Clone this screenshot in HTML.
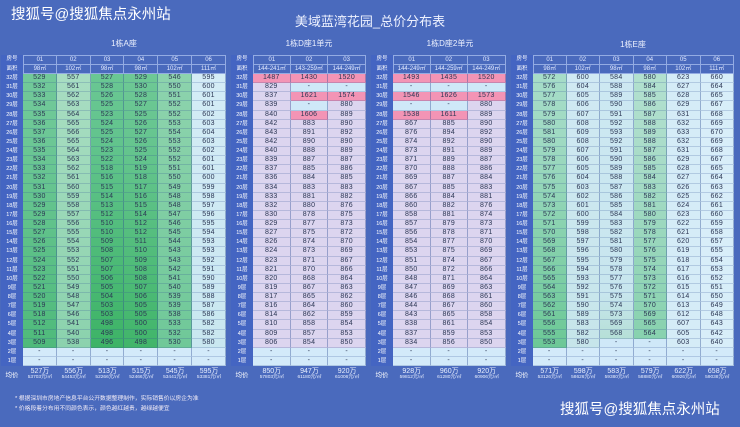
<!DOCTYPE html>
<html><head><meta charset="utf-8">
<style>
*{margin:0;padding:0;box-sizing:border-box}
html,body{width:740px;height:427px;overflow:hidden}
body{background:#4a6abd;font-family:"Liberation Sans","Noto Sans CJK SC",sans-serif;position:relative}
.wm{position:absolute;color:#fff;font-size:14.5px;line-height:16px;white-space:nowrap}
.ti{position:absolute;color:#eef2ff;text-align:center;white-space:nowrap}
.t{position:absolute;top:55px;display:grid;grid-template-rows:9.5px 9.5px repeat(32,9.125px) 20px;z-index:0}
.t i{font-style:normal;text-align:center;white-space:nowrap;overflow:hidden;display:block}
.l{color:#fff;font-size:5.5px;line-height:9px;background:#4465c2}
.h{color:#e4ebff;font-size:6px;line-height:8.5px;border-right:1px solid #93abe3;border-bottom:1px solid #93abe3}
.ht{border-top:1px solid #93abe3}
.hl{border-left:1px solid #93abe3}
.c{color:#2b3654;font-size:7px;letter-spacing:.3px;line-height:8.3px;border-right:1px solid rgba(50,80,150,.4);border-bottom:1px solid rgba(50,80,150,.22)}
.p{background:#f394b5}
.b{background:#cfe8f8}
.a{color:#eaf0ff;padding-top:2px}
.a b{display:block;font-weight:normal;font-size:7px;line-height:7px}
.a u{display:block;text-decoration:none;font-size:4.8px;line-height:6px}
.al{color:#fff;font-size:6.5px;line-height:20px}
.s{position:absolute;z-index:-1}
.fn{position:absolute;left:15px;color:#f2ecf6;font-size:5.8px;line-height:7px;white-space:nowrap}
</style></head><body>
<div class="wm" style="left:11px;top:7px">搜狐号@搜狐焦点永州站</div>
<div class="ti" style="left:0;top:14px;width:740px;font-size:13px;line-height:16px">美域蓝湾花园_总价分布表</div>
<div class="ti" style="left:74px;top:39px;width:100px;font-size:8px;line-height:10px">1栋A座</div>
<div class="ti" style="left:259px;top:39px;width:100px;font-size:8px;line-height:10px">1栋D座1单元</div>
<div class="ti" style="left:400px;top:39px;width:100px;font-size:8px;line-height:10px">1栋D座2单元</div>
<div class="ti" style="left:583px;top:40px;width:100px;font-size:8px;line-height:10px">1栋E座</div>

<!-- Table 1 -->
<div class="t" style="left:1px;grid-template-columns:22px repeat(6,33.83px)">
<div class="s" style="left:22px;top:19px;width:33.83px;height:273.75px;background:linear-gradient(#72c99a,#6cc795 25%,#4fba7b)"></div>
<div class="s" style="left:55.83px;top:19px;width:33.83px;height:273.75px;background:linear-gradient(#a8ddc2,#a2dbbd 25%,#8bd2ad)"></div>
<div class="s" style="left:89.66px;top:19px;width:33.83px;height:273.75px;background:linear-gradient(#6ac793,#62c48d 25%,#3db366)"></div>
<div class="s" style="left:123.49px;top:19px;width:33.83px;height:273.75px;background:linear-gradient(#6ec895,#66c58f 25%,#41b56a)"></div>
<div class="s" style="left:157.32px;top:19px;width:33.83px;height:273.75px;background:linear-gradient(#8cd3ad,#88d1a9 25%,#6fc898)"></div>
<div class="s" style="left:191.15px;top:19px;width:33.83px;height:273.75px;background:linear-gradient(#d4ecf6,#c9e7f0)"></div>
<div class="s" style="left:22px;top:292.75px;width:203px;height:18.25px;background:#d3eafa"></div>
<i class="l">房号</i><i class="h ht hl">01</i><i class="h ht">02</i><i class="h ht">03</i><i class="h ht">04</i><i class="h ht">05</i><i class="h ht">06</i>
<i class="l">面积</i><i class="h hl">98㎡</i><i class="h">102㎡</i><i class="h">98㎡</i><i class="h">98㎡</i><i class="h">102㎡</i><i class="h">111㎡</i>
<i class="l">32层</i><i class="c">529</i><i class="c">557</i><i class="c">527</i><i class="c">529</i><i class="c">546</i><i class="c">595</i>
<i class="l">31层</i><i class="c">532</i><i class="c">561</i><i class="c">528</i><i class="c">530</i><i class="c">550</i><i class="c">600</i>
<i class="l">30层</i><i class="c">533</i><i class="c">562</i><i class="c">526</i><i class="c">528</i><i class="c">551</i><i class="c">601</i>
<i class="l">29层</i><i class="c">534</i><i class="c">563</i><i class="c">525</i><i class="c">527</i><i class="c">552</i><i class="c">601</i>
<i class="l">28层</i><i class="c">535</i><i class="c">564</i><i class="c">523</i><i class="c">525</i><i class="c">552</i><i class="c">602</i>
<i class="l">27层</i><i class="c">536</i><i class="c">565</i><i class="c">524</i><i class="c">526</i><i class="c">553</i><i class="c">603</i>
<i class="l">26层</i><i class="c">537</i><i class="c">566</i><i class="c">525</i><i class="c">527</i><i class="c">554</i><i class="c">604</i>
<i class="l">25层</i><i class="c">536</i><i class="c">565</i><i class="c">524</i><i class="c">526</i><i class="c">553</i><i class="c">603</i>
<i class="l">24层</i><i class="c">535</i><i class="c">564</i><i class="c">523</i><i class="c">525</i><i class="c">552</i><i class="c">602</i>
<i class="l">23层</i><i class="c">534</i><i class="c">563</i><i class="c">522</i><i class="c">524</i><i class="c">552</i><i class="c">601</i>
<i class="l">22层</i><i class="c">533</i><i class="c">562</i><i class="c">518</i><i class="c">519</i><i class="c">551</i><i class="c">601</i>
<i class="l">21层</i><i class="c">532</i><i class="c">561</i><i class="c">516</i><i class="c">518</i><i class="c">550</i><i class="c">600</i>
<i class="l">20层</i><i class="c">531</i><i class="c">560</i><i class="c">515</i><i class="c">517</i><i class="c">549</i><i class="c">599</i>
<i class="l">19层</i><i class="c">530</i><i class="c">559</i><i class="c">514</i><i class="c">516</i><i class="c">548</i><i class="c">598</i>
<i class="l">18层</i><i class="c">529</i><i class="c">558</i><i class="c">513</i><i class="c">515</i><i class="c">548</i><i class="c">597</i>
<i class="l">17层</i><i class="c">529</i><i class="c">557</i><i class="c">512</i><i class="c">514</i><i class="c">547</i><i class="c">596</i>
<i class="l">16层</i><i class="c">528</i><i class="c">556</i><i class="c">510</i><i class="c">512</i><i class="c">546</i><i class="c">595</i>
<i class="l">15层</i><i class="c">527</i><i class="c">555</i><i class="c">510</i><i class="c">512</i><i class="c">545</i><i class="c">594</i>
<i class="l">14层</i><i class="c">526</i><i class="c">554</i><i class="c">509</i><i class="c">511</i><i class="c">544</i><i class="c">593</i>
<i class="l">13层</i><i class="c">525</i><i class="c">553</i><i class="c">508</i><i class="c">510</i><i class="c">543</i><i class="c">593</i>
<i class="l">12层</i><i class="c">524</i><i class="c">552</i><i class="c">507</i><i class="c">509</i><i class="c">543</i><i class="c">592</i>
<i class="l">11层</i><i class="c">523</i><i class="c">551</i><i class="c">507</i><i class="c">508</i><i class="c">542</i><i class="c">591</i>
<i class="l">10层</i><i class="c">522</i><i class="c">550</i><i class="c">506</i><i class="c">508</i><i class="c">541</i><i class="c">590</i>
<i class="l">9层</i><i class="c">521</i><i class="c">549</i><i class="c">505</i><i class="c">507</i><i class="c">540</i><i class="c">589</i>
<i class="l">8层</i><i class="c">520</i><i class="c">548</i><i class="c">504</i><i class="c">506</i><i class="c">539</i><i class="c">588</i>
<i class="l">7层</i><i class="c">519</i><i class="c">547</i><i class="c">503</i><i class="c">505</i><i class="c">539</i><i class="c">587</i>
<i class="l">6层</i><i class="c">518</i><i class="c">546</i><i class="c">503</i><i class="c">505</i><i class="c">538</i><i class="c">586</i>
<i class="l">5层</i><i class="c">512</i><i class="c">541</i><i class="c">498</i><i class="c">500</i><i class="c">533</i><i class="c">582</i>
<i class="l">4层</i><i class="c">511</i><i class="c">540</i><i class="c">498</i><i class="c">500</i><i class="c">532</i><i class="c">582</i>
<i class="l">3层</i><i class="c">509</i><i class="c">538</i><i class="c">496</i><i class="c">498</i><i class="c">530</i><i class="c">580</i>
<i class="l">2层</i><i class="c">-</i><i class="c">-</i><i class="c">-</i><i class="c">-</i><i class="c">-</i><i class="c">-</i>
<i class="l">1层</i><i class="c">-</i><i class="c">-</i><i class="c">-</i><i class="c">-</i><i class="c">-</i><i class="c">-</i>
<i class="al">均价</i><i class="a"><b>527万</b><u>53703元/㎡</u></i><i class="a"><b>556万</b><u>54453元/㎡</u></i><i class="a"><b>513万</b><u>52266元/㎡</u></i><i class="a"><b>515万</b><u>52466元/㎡</u></i><i class="a"><b>545万</b><u>53441元/㎡</u></i><i class="a"><b>595万</b><u>53381元/㎡</u></i>
</div>

<!-- Table 2 -->
<div class="t" style="left:231px;grid-template-columns:22px repeat(3,37.67px)">
<div class="s" style="left:22px;top:19px;width:113px;height:273.75px;background:#dcd5ef"></div>
<div class="s" style="left:22px;top:292.75px;width:113px;height:18.25px;background:#d3eafa"></div>
<i class="l">房号</i><i class="h ht hl">01</i><i class="h ht">02</i><i class="h ht">03</i>
<i class="l">面积</i><i class="h hl">144-241㎡</i><i class="h">143-259㎡</i><i class="h">144-249㎡</i>
<i class="l">32层</i><i class="c p">1487</i><i class="c p">1430</i><i class="c p">1520</i>
<i class="l">31层</i><i class="c">829</i><i class="c b">-</i><i class="c b">-</i>
<i class="l">30层</i><i class="c">837</i><i class="c p">1621</i><i class="c p">1574</i>
<i class="l">29层</i><i class="c">839</i><i class="c b">-</i><i class="c">880</i>
<i class="l">28层</i><i class="c">840</i><i class="c p">1606</i><i class="c">889</i>
<i class="l">27层</i><i class="c">842</i><i class="c">883</i><i class="c">890</i>
<i class="l">26层</i><i class="c">843</i><i class="c">891</i><i class="c">892</i>
<i class="l">25层</i><i class="c">842</i><i class="c">890</i><i class="c">890</i>
<i class="l">24层</i><i class="c">840</i><i class="c">888</i><i class="c">889</i>
<i class="l">23层</i><i class="c">839</i><i class="c">887</i><i class="c">887</i>
<i class="l">22层</i><i class="c">837</i><i class="c">885</i><i class="c">886</i>
<i class="l">21层</i><i class="c">836</i><i class="c">884</i><i class="c">885</i>
<i class="l">20层</i><i class="c">834</i><i class="c">883</i><i class="c">883</i>
<i class="l">19层</i><i class="c">833</i><i class="c">881</i><i class="c">882</i>
<i class="l">18层</i><i class="c">832</i><i class="c">880</i><i class="c">876</i>
<i class="l">17层</i><i class="c">830</i><i class="c">878</i><i class="c">875</i>
<i class="l">16层</i><i class="c">829</i><i class="c">877</i><i class="c">873</i>
<i class="l">15层</i><i class="c">827</i><i class="c">875</i><i class="c">872</i>
<i class="l">14层</i><i class="c">826</i><i class="c">874</i><i class="c">870</i>
<i class="l">13层</i><i class="c">824</i><i class="c">873</i><i class="c">869</i>
<i class="l">12层</i><i class="c">823</i><i class="c">871</i><i class="c">867</i>
<i class="l">11层</i><i class="c">821</i><i class="c">870</i><i class="c">866</i>
<i class="l">10层</i><i class="c">820</i><i class="c">868</i><i class="c">864</i>
<i class="l">9层</i><i class="c">819</i><i class="c">867</i><i class="c">863</i>
<i class="l">8层</i><i class="c">817</i><i class="c">865</i><i class="c">862</i>
<i class="l">7层</i><i class="c">816</i><i class="c">864</i><i class="c">860</i>
<i class="l">6层</i><i class="c">814</i><i class="c">862</i><i class="c">859</i>
<i class="l">5层</i><i class="c">810</i><i class="c">858</i><i class="c">854</i>
<i class="l">4层</i><i class="c">809</i><i class="c">857</i><i class="c">853</i>
<i class="l">3层</i><i class="c">806</i><i class="c">854</i><i class="c">850</i>
<i class="l">2层</i><i class="c">-</i><i class="c">-</i><i class="c">-</i>
<i class="l">1层</i><i class="c">-</i><i class="c">-</i><i class="c">-</i>
<i class="al">均价</i><i class="a"><b>850万</b><u>57803元/㎡</u></i><i class="a"><b>947万</b><u>61180元/㎡</u></i><i class="a"><b>920万</b><u>61006元/㎡</u></i>
</div>

<!-- Table 3 -->
<div class="t" style="left:371px;grid-template-columns:22px repeat(3,37.5px)">
<div class="s" style="left:22px;top:19px;width:112.5px;height:273.75px;background:#dcd5ef"></div>
<div class="s" style="left:22px;top:292.75px;width:112.5px;height:18.25px;background:#d3eafa"></div>
<i class="l">房号</i><i class="h ht hl">01</i><i class="h ht">02</i><i class="h ht">03</i>
<i class="l">面积</i><i class="h hl">144-249㎡</i><i class="h">144-259㎡</i><i class="h">144-249㎡</i>
<i class="l">32层</i><i class="c p">1493</i><i class="c p">1435</i><i class="c p">1520</i>
<i class="l">31层</i><i class="c b">-</i><i class="c b">-</i><i class="c b">-</i>
<i class="l">30层</i><i class="c p">1546</i><i class="c p">1626</i><i class="c p">1573</i>
<i class="l">29层</i><i class="c b">-</i><i class="c b">-</i><i class="c">880</i>
<i class="l">28层</i><i class="c p">1538</i><i class="c p">1611</i><i class="c">889</i>
<i class="l">27层</i><i class="c">867</i><i class="c">885</i><i class="c">890</i>
<i class="l">26层</i><i class="c">876</i><i class="c">894</i><i class="c">892</i>
<i class="l">25层</i><i class="c">874</i><i class="c">892</i><i class="c">890</i>
<i class="l">24层</i><i class="c">873</i><i class="c">891</i><i class="c">889</i>
<i class="l">23层</i><i class="c">871</i><i class="c">889</i><i class="c">887</i>
<i class="l">22层</i><i class="c">870</i><i class="c">888</i><i class="c">886</i>
<i class="l">21层</i><i class="c">869</i><i class="c">887</i><i class="c">884</i>
<i class="l">20层</i><i class="c">867</i><i class="c">885</i><i class="c">883</i>
<i class="l">19层</i><i class="c">866</i><i class="c">884</i><i class="c">881</i>
<i class="l">18层</i><i class="c">860</i><i class="c">882</i><i class="c">876</i>
<i class="l">17层</i><i class="c">858</i><i class="c">881</i><i class="c">874</i>
<i class="l">16层</i><i class="c">857</i><i class="c">879</i><i class="c">873</i>
<i class="l">15层</i><i class="c">856</i><i class="c">878</i><i class="c">871</i>
<i class="l">14层</i><i class="c">854</i><i class="c">877</i><i class="c">870</i>
<i class="l">13层</i><i class="c">853</i><i class="c">875</i><i class="c">869</i>
<i class="l">12层</i><i class="c">851</i><i class="c">874</i><i class="c">867</i>
<i class="l">11层</i><i class="c">850</i><i class="c">872</i><i class="c">866</i>
<i class="l">10层</i><i class="c">848</i><i class="c">871</i><i class="c">864</i>
<i class="l">9层</i><i class="c">847</i><i class="c">869</i><i class="c">863</i>
<i class="l">8层</i><i class="c">846</i><i class="c">868</i><i class="c">861</i>
<i class="l">7层</i><i class="c">844</i><i class="c">867</i><i class="c">860</i>
<i class="l">6层</i><i class="c">843</i><i class="c">865</i><i class="c">858</i>
<i class="l">5层</i><i class="c">838</i><i class="c">861</i><i class="c">854</i>
<i class="l">4层</i><i class="c">837</i><i class="c">859</i><i class="c">853</i>
<i class="l">3层</i><i class="c">834</i><i class="c">856</i><i class="c">850</i>
<i class="l">2层</i><i class="c">-</i><i class="c">-</i><i class="c">-</i>
<i class="l">1层</i><i class="c">-</i><i class="c">-</i><i class="c">-</i>
<i class="al">均价</i><i class="a"><b>928万</b><u>59812元/㎡</u></i><i class="a"><b>960万</b><u>61280元/㎡</u></i><i class="a"><b>920万</b><u>60906元/㎡</u></i>
</div>

<!-- Table 4 -->
<div class="t" style="left:511px;grid-template-columns:22px repeat(6,33.5px)">
<div class="s" style="left:22px;top:19px;width:33.5px;height:273.75px;background:linear-gradient(#a6dcc8,#9fdac2 25%,#6cc896)"></div>
<div class="s" style="left:55.5px;top:19px;width:33.5px;height:273.75px;background:linear-gradient(#d0e9f3,#c6e5ea)"></div>
<div class="s" style="left:89px;top:19px;width:33.5px;height:273.75px;background:linear-gradient(#cde8f2,#c8e6ee 80%,#b2ded2)"></div>
<div class="s" style="left:122.5px;top:19px;width:33.5px;height:273.75px;background:linear-gradient(#b2e0cf,#abddca 25%,#86d1ad)"></div>
<div class="s" style="left:156px;top:19px;width:33.5px;height:273.75px;background:#d5ecf7"></div>
<div class="s" style="left:189.5px;top:19px;width:33.5px;height:273.75px;background:#d8eef9"></div>
<div class="s" style="left:22px;top:292.75px;width:201px;height:18.25px;background:#d3eafa"></div>
<i class="l">房号</i><i class="h ht hl">01</i><i class="h ht">02</i><i class="h ht">03</i><i class="h ht">04</i><i class="h ht">05</i><i class="h ht">06</i>
<i class="l">面积</i><i class="h hl">98㎡</i><i class="h">102㎡</i><i class="h">98㎡</i><i class="h">98㎡</i><i class="h">102㎡</i><i class="h">111㎡</i>
<i class="l">32层</i><i class="c">572</i><i class="c">600</i><i class="c">584</i><i class="c">580</i><i class="c">623</i><i class="c">660</i>
<i class="l">31层</i><i class="c">576</i><i class="c">604</i><i class="c">588</i><i class="c">584</i><i class="c">627</i><i class="c">664</i>
<i class="l">30层</i><i class="c">577</i><i class="c">605</i><i class="c">589</i><i class="c">585</i><i class="c">628</i><i class="c">665</i>
<i class="l">29层</i><i class="c">578</i><i class="c">606</i><i class="c">590</i><i class="c">586</i><i class="c">629</i><i class="c">667</i>
<i class="l">28层</i><i class="c">579</i><i class="c">607</i><i class="c">591</i><i class="c">587</i><i class="c">631</i><i class="c">668</i>
<i class="l">27层</i><i class="c">580</i><i class="c">608</i><i class="c">592</i><i class="c">588</i><i class="c">632</i><i class="c">669</i>
<i class="l">26层</i><i class="c">581</i><i class="c">609</i><i class="c">593</i><i class="c">589</i><i class="c">633</i><i class="c">670</i>
<i class="l">25层</i><i class="c">580</i><i class="c">608</i><i class="c">592</i><i class="c">588</i><i class="c">632</i><i class="c">669</i>
<i class="l">24层</i><i class="c">579</i><i class="c">607</i><i class="c">591</i><i class="c">587</i><i class="c">631</i><i class="c">668</i>
<i class="l">23层</i><i class="c">578</i><i class="c">606</i><i class="c">590</i><i class="c">586</i><i class="c">629</i><i class="c">667</i>
<i class="l">22层</i><i class="c">577</i><i class="c">605</i><i class="c">589</i><i class="c">585</i><i class="c">628</i><i class="c">665</i>
<i class="l">21层</i><i class="c">576</i><i class="c">604</i><i class="c">588</i><i class="c">584</i><i class="c">627</i><i class="c">664</i>
<i class="l">20层</i><i class="c">575</i><i class="c">603</i><i class="c">587</i><i class="c">583</i><i class="c">626</i><i class="c">663</i>
<i class="l">19层</i><i class="c">574</i><i class="c">602</i><i class="c">586</i><i class="c">582</i><i class="c">625</i><i class="c">662</i>
<i class="l">18层</i><i class="c">573</i><i class="c">601</i><i class="c">585</i><i class="c">581</i><i class="c">624</i><i class="c">661</i>
<i class="l">17层</i><i class="c">572</i><i class="c">600</i><i class="c">584</i><i class="c">580</i><i class="c">623</i><i class="c">660</i>
<i class="l">16层</i><i class="c">571</i><i class="c">599</i><i class="c">583</i><i class="c">579</i><i class="c">622</i><i class="c">659</i>
<i class="l">15层</i><i class="c">570</i><i class="c">598</i><i class="c">582</i><i class="c">578</i><i class="c">621</i><i class="c">658</i>
<i class="l">14层</i><i class="c">569</i><i class="c">597</i><i class="c">581</i><i class="c">577</i><i class="c">620</i><i class="c">657</i>
<i class="l">13层</i><i class="c">568</i><i class="c">596</i><i class="c">580</i><i class="c">576</i><i class="c">619</i><i class="c">655</i>
<i class="l">12层</i><i class="c">567</i><i class="c">595</i><i class="c">579</i><i class="c">575</i><i class="c">618</i><i class="c">654</i>
<i class="l">11层</i><i class="c">566</i><i class="c">594</i><i class="c">578</i><i class="c">574</i><i class="c">617</i><i class="c">653</i>
<i class="l">10层</i><i class="c">565</i><i class="c">593</i><i class="c">577</i><i class="c">573</i><i class="c">616</i><i class="c">652</i>
<i class="l">9层</i><i class="c">564</i><i class="c">592</i><i class="c">576</i><i class="c">572</i><i class="c">615</i><i class="c">651</i>
<i class="l">8层</i><i class="c">563</i><i class="c">591</i><i class="c">575</i><i class="c">571</i><i class="c">614</i><i class="c">650</i>
<i class="l">7层</i><i class="c">562</i><i class="c">590</i><i class="c">574</i><i class="c">570</i><i class="c">613</i><i class="c">649</i>
<i class="l">6层</i><i class="c">561</i><i class="c">589</i><i class="c">573</i><i class="c">569</i><i class="c">612</i><i class="c">648</i>
<i class="l">5层</i><i class="c">556</i><i class="c">583</i><i class="c">569</i><i class="c">565</i><i class="c">607</i><i class="c">643</i>
<i class="l">4层</i><i class="c">555</i><i class="c">582</i><i class="c">568</i><i class="c">564</i><i class="c">605</i><i class="c">642</i>
<i class="l">3层</i><i class="c">553</i><i class="c">580</i><i class="c b">-</i><i class="c b">-</i><i class="c">603</i><i class="c">640</i>
<i class="l">2层</i><i class="c">-</i><i class="c">-</i><i class="c">-</i><i class="c">-</i><i class="c">-</i><i class="c">-</i>
<i class="l">1层</i><i class="c">-</i><i class="c">-</i><i class="c">-</i><i class="c">-</i><i class="c">-</i><i class="c">-</i>
<i class="al">均价</i><i class="a"><b>571万</b><u>53126元/㎡</u></i><i class="a"><b>598万</b><u>58626元/㎡</u></i><i class="a"><b>583万</b><u>59380元/㎡</u></i><i class="a"><b>579万</b><u>58880元/㎡</u></i><i class="a"><b>622万</b><u>60926元/㎡</u></i><i class="a"><b>658万</b><u>59038元/㎡</u></i>
</div>

<div class="fn" style="top:396px">* 根据深圳市房地产信息平台公开数据整理制作，实际销售价以房企为准</div>
<div class="fn" style="top:406px">* 价格段着分布用不同颜色表示，颜色越红越贵，越绿越便宜</div>
<div class="wm" style="left:560px;top:402px">搜狐号@搜狐焦点永州站</div>
</body></html>
